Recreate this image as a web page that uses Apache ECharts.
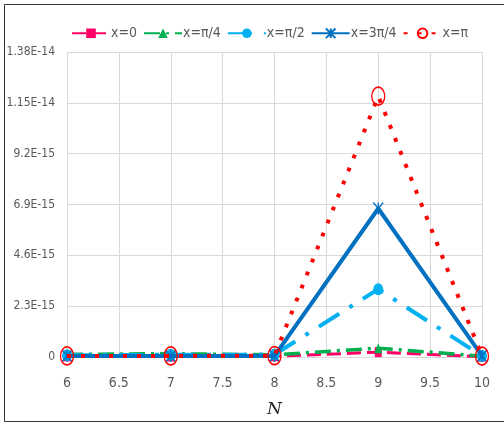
<!DOCTYPE html>
<html>
<head>
<meta charset="utf-8">
<script src="https://cdn.jsdelivr.net/npm/echarts@6/dist/echarts.min.js"></script>
<style>
  html, body { margin: 0; padding: 0; background: #fff; }
  #chart { width: 504px; height: 425px; }
</style>
</head>
<body>
<div id="chart"></div>
<script>
// N values along the horizontal axis
const nValues = [6, 7, 8, 9, 10];

// Error values for each x position
const seriesNames = ['x=0', 'x=\u03c0/4', 'x=\u03c0/2', 'x=3\u03c0/4', 'x=\u03c0'];
const errX0      = [3e-17, 2e-17, 3e-17, 2.2e-16, 1e-17];
const errXPi4    = [1.2e-16, 1.5e-16, 1.0e-16, 4.0e-16, 4e-17];
const errXPi2    = [8e-17, 1.0e-16, 1.1e-16, 3.07e-15, 5e-17];
const errX3Pi4   = [5e-17, 4e-17, 5e-17, 6.72e-15, 5e-17];
const errXPi     = [5e-17, 5e-17, 6e-17, 1.18e-14, 4e-17];

// Y tick labels, one per 2.3E-15 step
const yTickLabels = ['0', '2.3E-15', '4.6E-15', '6.9E-15', '9.2E-15', '1.15E-14', '1.38E-14'];
const yStep = 2.3e-15;

const pairs = arr => nValues.map((n, i) => [n, arr[i]]);

const asterisk = 'path://M0,0L10,10M10,0L0,10M5,0L5,10';

const font = "'Liberation Sans Narrow', 'DejaVu Sans Condensed', 'Liberation Sans', sans-serif";

const chart = echarts.init(document.getElementById('chart'));
chart.setOption({
  animation: false,
  backgroundColor: '#fff',
  graphic: [{
    type: 'rect',
    shape: { x: 4.5, y: 4.5, width: 520, height: 417 },
    style: { fill: 'none', stroke: '#333', lineWidth: 1 },
    silent: true
  }],
  legend: {
    top: 21,
    left: 66,
    itemWidth: 38,
    itemHeight: 12,
    itemGap: 6,
    textStyle: { fontFamily: font, fontSize: 14, color: '#595959', padding: [0, 0, 0, -4] },
    data: seriesNames
  },
  grid: { left: 67, right: 22, top: 52, bottom: 68 },
  xAxis: {
    type: 'value',
    min: 6, max: 10, interval: 0.5,
    name: 'N',
    nameLocation: 'middle',
    nameGap: 44,
    nameTextStyle: { fontFamily: "'DejaVu Serif', 'Liberation Serif', serif", fontStyle: 'italic', fontSize: 17, color: '#222' },
    axisLine: { show: false },
    axisTick: { show: false },
    splitLine: { show: true, lineStyle: { color: '#d9d9d9', width: 1 } },
    axisLabel: { fontFamily: font, fontSize: 14, color: '#595959', margin: 19 }
  },
  yAxis: {
    type: 'value',
    min: 0, max: 1.38e-14, interval: yStep,
    axisLine: { show: false },
    axisTick: { show: false },
    splitLine: { show: true, lineStyle: { color: '#d9d9d9', width: 1 } },
    axisLabel: {
      fontFamily: font, fontSize: 12, color: '#595959', margin: 12,
      formatter: v => yTickLabels[Math.round(v / yStep)] || ''
    }
  },
  series: [
    {
      name: seriesNames[0], type: 'line', data: pairs(errX0), z: 2,
      symbol: 'rect', symbolSize: [7, 10],
      itemStyle: { color: '#ff0066' },
      lineStyle: { color: '#ff0066', width: 3, type: [14, 6] }
    },
    {
      name: seriesNames[1], type: 'line', data: pairs(errXPi4), z: 3,
      symbol: 'triangle', symbolSize: [8, 10],
      itemStyle: { color: '#00b050' },
      lineStyle: { color: '#00b050', width: 3.5, type: [16, 6, 3, 6] }
    },
    {
      name: seriesNames[2], type: 'line', data: pairs(errXPi2), z: 4,
      symbol: 'circle', symbolSize: [10, 12],
      itemStyle: { color: '#00b0f0' },
      lineStyle: { color: '#00b0f0', width: 4, type: [24, 12, 4, 12] }
    },
    {
      name: seriesNames[3], type: 'line', data: pairs(errX3Pi4), z: 5,
      symbol: asterisk, symbolSize: [10, 12],
      itemStyle: { color: 'none', borderColor: '#0070c0', borderWidth: 1.5 },
      lineStyle: { color: '#0070c0', width: 4 }
    },
    {
      name: seriesNames[4], type: 'line', data: pairs(errXPi), z: 6,
      symbol: 'circle', symbolSize: [13, 18],
      itemStyle: { color: 'rgba(255,255,255,0)', borderColor: '#ff0000', borderWidth: 1.5, opacity: 1 },
      lineStyle: { color: '#ff0000', width: 4, type: [4, 10], cap: 'butt' }
    }
  ]
});
</script>
</body>
</html>
